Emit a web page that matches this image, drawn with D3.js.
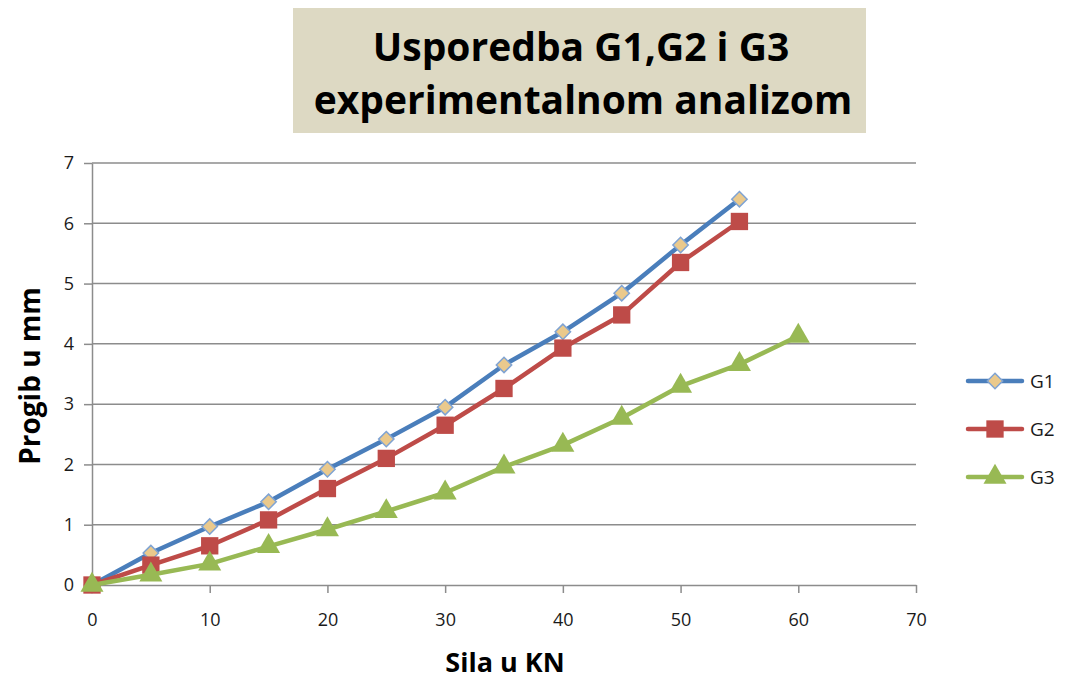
<!DOCTYPE html>
<html>
<head>
<meta charset="utf-8">
<script src="https://cdn.jsdelivr.net/npm/d3@7"></script>
<style>
  html, body { margin: 0; padding: 0; background: #fff; }
  svg { display: block; }
  text { font-family: "Open Sans", "Liberation Sans", sans-serif; }
</style>
</head>
<body>
<svg id="chart" width="1065" height="683"></svg>
<script>
// Force in kN (x) and measured deflection in mm (y)
const sila = [0, 5, 10, 15, 20, 25, 30, 35, 40, 45, 50, 55, 60];
const g1 = [0, 0.53, 0.97, 1.38, 1.92, 2.42, 2.95, 3.65, 4.20, 4.84, 5.64, 6.40];
const g2 = [0, 0.33, 0.65, 1.08, 1.60, 2.10, 2.65, 3.26, 3.93, 4.48, 5.35, 6.03];
const g3 = [0, 0.17, 0.35, 0.64, 0.92, 1.22, 1.53, 1.96, 2.32, 2.77, 3.30, 3.66, 4.13];
const xTicks = [0, 10, 20, 30, 40, 50, 60, 70];
const yTicks = [0, 1, 2, 3, 4, 5, 6, 7];
const seriesNames = ["G1", "G2", "G3"];

const series = [
  { name: seriesNames[0], values: g1, color: "#4a7ebb", marker: "diamond", fill: "#eac98c" },
  { name: seriesNames[1], values: g2, color: "#be4b48", marker: "square", fill: "#be4b48" },
  { name: seriesNames[2], values: g3, color: "#98b954", marker: "triangle", fill: "#98b954" }
];

const svg = d3.select("#chart");
const plot = { left: 92, right: 916, top: 163, bottom: 585 };

const x = d3.scaleLinear().domain([0, 70]).range([plot.left, plot.right]);
const y = d3.scaleLinear().domain([0, 7]).range([plot.bottom, plot.top]);

// Title box
const title = svg.append("g");
title.append("rect")
  .attr("x", 293).attr("y", 8).attr("width", 573).attr("height", 125)
  .attr("fill", "#ddd9c3");
title.append("text")
  .attr("x", 581).attr("y", 61)
  .attr("text-anchor", "middle")
  .attr("font-size", 39).attr("font-weight", "bold").attr("fill", "#000")
  .text("Usporedba G1,G2 i G3");
title.append("text")
  .attr("x", 583).attr("y", 114)
  .attr("text-anchor", "middle")
  .attr("font-size", 39).attr("font-weight", "bold").attr("fill", "#000")
  .text("experimentalnom analizom");

// Horizontal gridlines
svg.append("g")
  .selectAll("line")
  .data(yTicks.filter(d => d > 0))
  .join("line")
  .attr("x1", plot.left).attr("x2", plot.right)
  .attr("y1", d => y(d)).attr("y2", d => y(d))
  .attr("stroke", "#8c8c8c").attr("stroke-width", 1.5);

// Axes
const xAxis = svg.append("g")
  .attr("transform", `translate(0,${plot.bottom})`)
  .call(d3.axisBottom(x).tickValues(xTicks).tickFormat(d3.format("d"))
    .tickSize(8).tickSizeOuter(0).tickPadding(20));
const yAxis = svg.append("g")
  .attr("transform", `translate(${plot.left},0)`)
  .call(d3.axisLeft(y).tickValues(yTicks).tickFormat(d3.format("d"))
    .tickSize(8).tickSizeOuter(0).tickPadding(10));

[xAxis, yAxis].forEach(a => {
  a.select(".domain").attr("stroke", "#8c8c8c").attr("stroke-width", 1.5);
  a.selectAll(".tick line").attr("stroke", "#8c8c8c").attr("stroke-width", 1.5);
  a.selectAll(".tick text")
    .attr("font-size", 18).attr("fill", "#1a1a1a")
    .style("font-family", "'Open Sans', 'Liberation Sans', sans-serif");
});

// Axis titles
svg.append("text")
  .attr("x", 505).attr("y", 672)
  .attr("text-anchor", "middle")
  .attr("font-size", 27).attr("font-weight", "bold")
  .text("Sila u KN");
svg.append("text")
  .attr("transform", `translate(40,${(plot.top + plot.bottom) / 2 + 2}) rotate(-90)`)
  .attr("text-anchor", "middle")
  .attr("font-size", 28).attr("font-weight", "bold")
  .text("Progib u mm");

// Marker shapes
const symbolFor = {
  diamond: d3.symbol().type(d3.symbolDiamond2).size(150),
  square: d3.symbol().type(d3.symbolSquare).size(300),
  triangle: d3.symbol().type(d3.symbolTriangle).size(230)
};

function drawMarker(g, s, cx, cy) {
  const p = g.append("path")
    .attr("d", symbolFor[s.marker]())
    .attr("transform", `translate(${cx},${cy})`)
    .attr("fill", s.fill);
  if (s.marker === "diamond") p.attr("stroke", "#7fa3d3").attr("stroke-width", 1.5);
  return p;
}

const line = d3.line().x(d => x(d[0])).y(d => y(d[1]));

series.forEach(s => {
  const pts = s.values.map((v, i) => [sila[i], v]);
  const g = svg.append("g");
  g.append("path")
    .datum(pts)
    .attr("d", line)
    .attr("fill", "none")
    .attr("stroke", s.color)
    .attr("stroke-width", 4.5)
    .attr("stroke-linejoin", "round");
  pts.forEach(p => drawMarker(g, s, x(p[0]), y(p[1])));
});

// Legend
const legend = svg.append("g");
series.forEach((s, i) => {
  const ly = 381 + i * 48;
  legend.append("line")
    .attr("x1", 968).attr("x2", 1022).attr("y1", ly).attr("y2", ly)
    .attr("stroke", s.color).attr("stroke-width", 4.5).attr("stroke-linecap", "round");
  drawMarker(legend, s, 995, ly);
  legend.append("text")
    .attr("x", 1030).attr("y", ly + 7)
    .attr("font-size", 19).attr("fill", "#1a1a1a")
    .text(s.name);
});
</script>
</body>
</html>
